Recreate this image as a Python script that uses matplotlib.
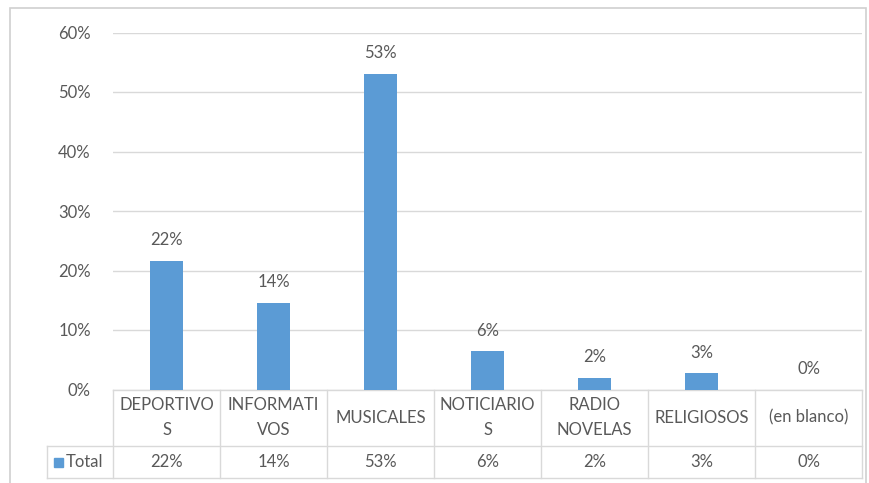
import matplotlib.pyplot as plt
from matplotlib.patches import Rectangle
from matplotlib.transforms import blended_transform_factory

# Données
categorias = ["DEPORTIVO\nS", "INFORMATI\nVOS", "MUSICALES", "NOTICIARIO\nS",
              "RADIO\nNOVELAS", "RELIGIOSOS", "(en blanco)"]
valores = [0.216, 0.145, 0.531, 0.064, 0.019, 0.027, 0.0]
serie = "Total"
ticks_y = [0, 0.1, 0.2, 0.3, 0.4, 0.5, 0.6]

W, H = 869, 483
azul = "#5B9BD5"
gris_txt = "#595959"
gris_lin = "#D9D9D9"
fs = 12
plt.rcParams['font.family'] = ['Lato', 'DejaVu Sans']

fig = plt.figure(figsize=(W / 100, H / 100), dpi=100)

def fx(x):
    return x / W

def fy(y):
    return 1 - y / H

# marco exterior
fig.patches.append(Rectangle((fx(10), fy(490)), fx(856), fy(8) - fy(490),
                             transform=fig.transFigure, fill=False,
                             edgecolor="#D0D0D0", linewidth=1.2))

ax = fig.add_axes([fx(113), fy(389.5), fx(862) - fx(113), fy(32.5) - fy(389.5)])
x = list(range(len(categorias)))
ax.bar(x, valores, width=0.31, color=azul, zorder=3)
ax.set_xlim(-0.5, len(categorias) - 0.5)
ax.set_ylim(0, 0.6)
ax.set_yticks(ticks_y)
ax.set_yticklabels([f"{v:.0%}" for v in ticks_y], color=gris_txt, fontsize=fs)
ax.tick_params(axis='y', length=0, pad=16)
ax.set_xticks([])
ax.grid(axis='y', color=gris_lin, linewidth=1, zorder=0)
for s in ax.spines.values():
    s.set_visible(False)

for xi, v in zip(x, valores):
    ax.annotate(f"{v:.0%}", (xi, v), xytext=(0, 15), textcoords='offset points',
                ha='center', va='center', fontsize=fs, color=gris_txt)

# tabla de datos
tr = blended_transform_factory(ax.transData, fig.transFigure)
n = len(categorias)
y_top, y_mid, y_bot = fy(389.5), fy(446), fy(478)
ax.plot([-0.5, n - 0.5], [y_top, y_top], transform=tr, color=gris_lin, lw=1, clip_on=False)
for yy in (y_mid, y_bot):
    fig.add_artist(plt.Line2D([fx(47), fx(862)], [yy, yy], color=gris_lin, lw=1))
for k in range(n + 1):
    ax.plot([k - 0.5, k - 0.5], [y_top, y_bot], transform=tr, color=gris_lin, lw=1, clip_on=False)
fig.add_artist(plt.Line2D([fx(47), fx(47)], [y_mid, y_bot], color=gris_lin, lw=1))

for xi, cat, v in zip(x, categorias, valores):
    ax.text(xi, (y_top + y_mid) / 2, cat, transform=tr, ha='center', va='center',
            fontsize=fs, color=gris_txt, linespacing=1.7)
    ax.text(xi, (y_mid + y_bot) / 2, f"{v:.0%}", transform=tr, ha='center', va='center',
            fontsize=fs, color=gris_txt)

fig.patches.append(Rectangle((fx(54), fy(467)), fx(9), fy(458) - fy(467),
                             transform=fig.transFigure, color=azul))
fig.text(fx(66), (y_mid + y_bot) / 2, serie, ha='left', va='center',
         fontsize=fs, color=gris_txt)

fig.savefig("out.png", dpi=100)
